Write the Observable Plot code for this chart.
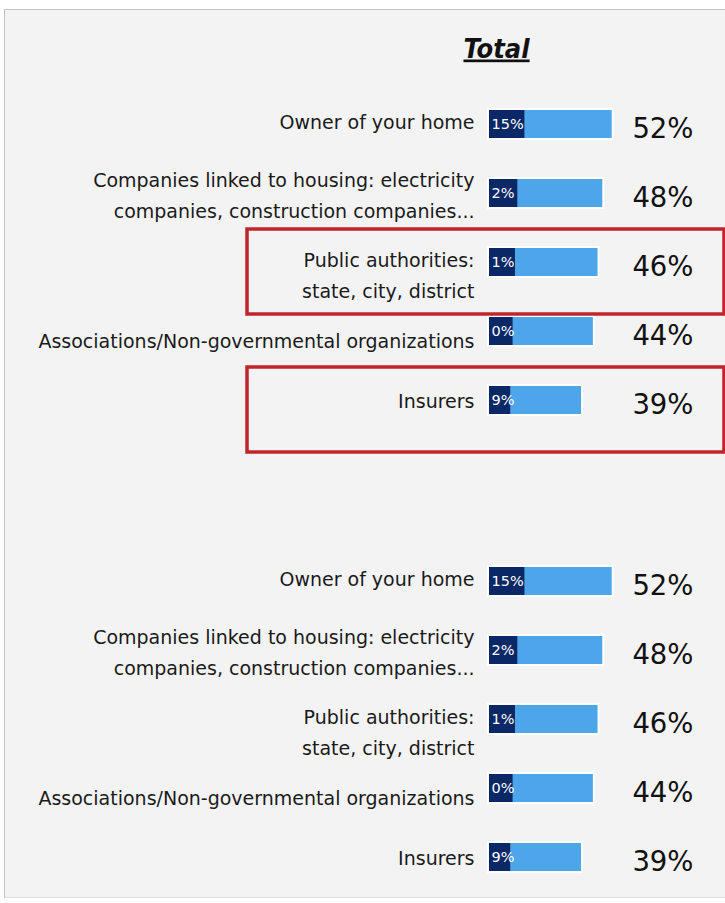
<!DOCTYPE html>
<html>
<head>
<meta charset="utf-8">
<script src="https://cdn.jsdelivr.net/npm/d3@7"></script>
<script src="https://cdn.jsdelivr.net/npm/@observablehq/plot@0.6"></script>
<style>
  html, body { margin: 0; padding: 0; background: #ffffff; overflow: hidden; }
  #wrap { position: relative; width: 725px; height: 903px; }
  #bg { position: absolute; left: 4px; top: 9px; width: 730px; height: 889px;
        background: #f3f3f3; border-left: 1px solid #c4c4c4; border-top: 1px solid #c4c4c4;
        border-bottom: 1px solid #dcdcdc; box-sizing: border-box; }
  #chart { position: absolute; left: 0; top: 0; }
  .title-mark text { text-decoration: underline; text-decoration-thickness: 3px; text-underline-offset: 3px; }
</style>
</head>
<body>
<div id="wrap"><div id="bg"></div><div id="chart"></div></div>
<script>
// ---- data ----
const panels = ["top", "bottom"];
const categories = [
  "Owner of your home",
  "Companies linked to housing: electricity companies, construction companies...",
  "Public authorities: state, city, district",
  "Associations/Non-governmental organizations",
  "Insurers"
];
const categoryLabels = [
  "Owner of your home",
  "Companies linked to housing: electricity\ncompanies, construction companies...",
  "Public authorities:\nstate, city, district",
  "Associations/Non-governmental organizations",
  "Insurers"
];
const totalValues = [52, 48, 46, 44, 39];
const firstValues = [15, 12, 11, 10, 9];
const firstLabels = ["15%", "2%", "1%", "0%", "9%"];
const highlightPanel = "top";
const highlightCategories = [
  "Public authorities: state, city, district",
  "Insurers"
];
const titleText = "Total";

// ---- styling ----
const labelDy = [-5, -1, 10, 7, -2];
const darkBlue = "#0b2866";
const lightBlue = "#4ea6ea";
const red = "#c1252c";
const font = "DejaVu Sans, sans-serif";

const rows = panels.flatMap(panel => categories.map((category, i) => ({
  panel, category, i,
  label: categoryLabels[i],
  total: totalValues[i],
  first: firstValues[i],
  firstLabel: firstLabels[i]
})));
const highlights = highlightCategories.map(category => ({panel: highlightPanel, category}));

const chart = Plot.plot({
  width: 725,
  height: 903,
  marginLeft: 489,
  marginRight: 0,
  marginTop: 93,
  marginBottom: 16,
  style: {background: "transparent", fontFamily: font, overflow: "visible"},
  x: {domain: [0, 100], axis: null},
  y: {domain: categories, paddingInner: 0.6, paddingOuter: 0.2, axis: null},
  fy: {domain: panels, paddingInner: 0.266, paddingOuter: 0, axis: null},
  marks: [
    Plot.barX(rows, {fy: "panel", y: "category", x: "total", fill: "white", inset: -2}),
    Plot.barX(rows, {fy: "panel", y: "category", x: "total", fill: lightBlue}),
    Plot.barX(rows, {fy: "panel", y: "category", x: "first", fill: darkBlue}),
    Plot.text(rows, {fy: "panel", y: "category", x: 0, text: "firstLabel", textAnchor: "start",
      dx: 2, fill: "white", fontSize: 14.5}),
    Plot.text(rows, {fy: "panel", y: "category", text: d => d.total + "%", frameAnchor: "right",
      textAnchor: "end", dx: -32, dy: 5, fontSize: 27.5, fill: "#111"}),
    ...categories.map((c, i) => Plot.text(rows.filter(r => r.i === i), {
      fy: "panel", y: "category", text: "label", frameAnchor: "left", textAnchor: "end",
      dx: -15, dy: labelDy[i], fontSize: 19, lineHeight: 1.63, fill: "#1a1a1a"
    })),
    Plot.cell(highlights, {fy: "panel", y: "category", fill: "none", stroke: red, strokeWidth: 3.5,
      insetLeft: -242, insetRight: 1, insetTop: -19, insetBottom: -38}),
    Plot.text([{panel: "top", t: titleText}], {fy: "panel", text: "t", frameAnchor: "top",
      lineAnchor: "bottom", dx: -111, dy: -37, fontSize: 27, fontWeight: "bold", fontStyle: "italic",
      fontFamily: "DejaVu Sans Condensed, DejaVu Sans, sans-serif", fill: "#111", className: "title-mark"})
  ]
});
document.getElementById("chart").appendChild(chart);
</script>
</body>
</html>
